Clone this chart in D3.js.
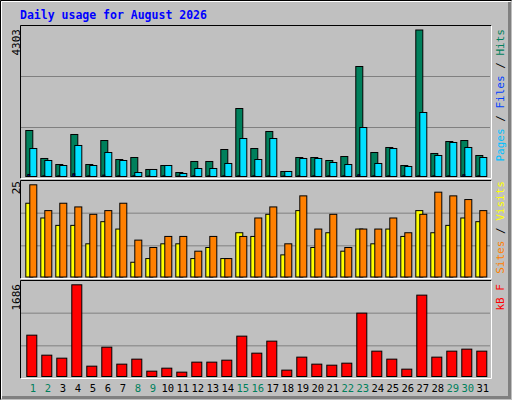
<!DOCTYPE html>
<html>
<head>
<meta charset="UTF-8">
<script src="https://d3js.org/d3.v7.min.js"></script>
<style>body{margin:0;background:#fff}svg text{font-family:"DejaVu Sans Mono",monospace}</style>
</head>
<body>
<svg id="chart" width="512" height="400"></svg>
<script>
const days = d3.range(1, 32);
const weekend = [1, 2, 8, 9, 15, 16, 22, 23, 29, 30];
const hits = [1351,529,352,1234,352,1057,499,558,206,323,117,441,441,793,1997,822,1322,147,558,558,470,587,3231,705,852,323,4303,676,1028,1057,617];
const files = [822,470,323,911,323,705,470,117,206,323,88,235,235,382,1116,499,1116,147,529,529,411,352,1439,382,822,294,1880,617,999,852,558];
const pages = [60,20,20,80,20,40,20,20,15,20,15,20,20,20,20,20,20,15,20,20,20,20,50,20,20,20,20,20,20,50,20];
const visits = [25,18,20,19,17,18,20,10,8,11,11,7,11,5,11,16,19,9,22,13,17,8,13,13,16,12,17,23,22,21,18];
const sites = [20,16,14,14,9,15,13,4,5,9,9,5,8,5,12,11,17,6,18,8,12,7,13,9,13,11,18,12,14,16,15];
const kbytes = [760,392,337,1686,190,539,227,319,98,153,80,264,264,300,742,429,650,117,356,227,208,245,1165,466,319,135,1496,356,466,503,466];

const svg = d3.select("#chart");
svg.append("rect").attr("width", 512).attr("height", 400).attr("fill", "#c0c0c0");
// outer bevel
svg.append("path").attr("d", "M0.5 399.5V0.5H511.5").attr("stroke", "#000").attr("fill", "none");
svg.append("path").attr("d", "M1.5 398.5V1.5H510.5").attr("stroke", "#fff").attr("fill", "none");
svg.append("path").attr("d", "M2 397.5H509.5V2").attr("stroke", "#808080").attr("stroke-width", 3).attr("fill", "none");

svg.append("text").attr("x", 20).attr("y", 19).attr("fill", "#0000ff")
  .attr("font-size", 11.5).attr("font-weight", "bold").text("Daily usage for August 2026");

const x = d3.scaleLinear().domain([1, 31]).range([25.3, 475.3]);

function panel(top, bottom, maxTop) {
  svg.append("path").attr("d", `M20.5 ${bottom}V${top}H491.5`).attr("stroke", "#000").attr("fill", "none");
  svg.append("path").attr("d", `M20.5 ${bottom}H491.5V${top}`).attr("stroke", "#fff").attr("fill", "none");
  const h = bottom - top;
  [1 / 3, 2 / 3].forEach(f => {
    svg.append("line").attr("x1", 21).attr("x2", 490).attr("y1", top + h * f).attr("y2", top + h * f)
      .attr("stroke", "#808080");
  });
}

function bars(data, y, dx, w, color) {
  svg.append("g").selectAll("rect").data(data).join("rect")
    .attr("x", (d, i) => x(days[i]) + dx + 0.5).attr("width", w)
    .attr("y", d => y(d) + 0.5).attr("height", d => Math.max(0, y(0) - y(d)))
    .attr("fill", color).attr("stroke", "#000");
}

function vlabel(xp, yp, parts, anchor) {
  const t = svg.append("text").attr("transform", `translate(${xp},${yp}) rotate(-90)`)
    .attr("font-size", 11).attr("text-anchor", anchor);
  parts.forEach(p => t.append("tspan").attr("fill", p[1]).text(p[0]));
}

// panel 1
panel(25.5, 178.5, 0);
const y1 = d3.scaleLinear().domain([0, 4303]).range([176, 29.5]);
bars(hits, y1, 0, 7, "#00805c");
bars(files, y1, 4, 7, "#00e0ff");
bars(pages, y1, 2, 2, "#0000c0");
vlabel(20, 29, [["4303", "#000"]], "end");
vlabel(504, 29, [["Pages", "#00c0ff"], [" / ", "#000"], ["Files", "#0040ff"], [" / ", "#000"], ["Hits", "#00805c"]], "end");

// panel 2
panel(180.5, 278.5, 0);
const y2 = d3.scaleLinear().domain([0, 25]).range([276.5, 184.3]);
bars(sites, y2, 0, 7, "#ffff00");
bars(visits, y2, 4, 7, "#ff8000");
vlabel(20, 181, [["25", "#000"]], "end");
vlabel(504, 181, [["Sites", "#ff8000"], [" / ", "#000"], ["Visits", "#ffff00"]], "end");

// panel 3
panel(280.5, 378.5, 0);
const y3 = d3.scaleLinear().domain([0, 1686]).range([376, 284.3]);
bars(kbytes, y3, 1, 10, "#ff0000");
vlabel(20, 284, [["1686", "#000"]], "end");
vlabel(504, 284, [["kB F", "#ff0000"]], "end");

svg.append("g").selectAll("text").data(days).join("text")
  .attr("x", d => x(d) + 7.5).attr("y", 392).attr("text-anchor", "middle")
  .attr("font-size", 10.5).attr("font-family", "DejaVu Sans")
  .attr("fill", d => weekend.includes(d) ? "#00805c" : "#000").text(d => d);
</script>
</body>
</html>
